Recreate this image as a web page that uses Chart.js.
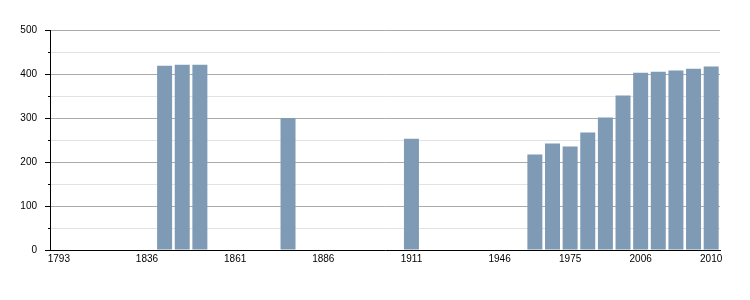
<!DOCTYPE html>
<html>
<head>
<meta charset="utf-8">
<script src="https://cdn.jsdelivr.net/npm/chart.js@4"></script>
<style>
html,body{margin:0;padding:0;background:#fff;}
#wrap{width:750px;height:300px;position:relative;}
</style>
</head>
<body>
<div id="wrap"><canvas id="c" width="750" height="300"></canvas></div>
<script>
const years = ['1793','1800','1806','1821','1831','1836','1841','1846','1851','1856','1861','1866','1872','1876','1881','1886','1891','1896','1901','1906','1911','1921','1926','1931','1936','1946','1954','1962','1968','1975','1982','1990','1999','2006','2007','2008','2009','2010'];
const population = [null,null,null,null,null,null,419,421,421,null,null,null,null,300,null,null,null,null,null,null,253,null,null,null,null,null,null,217,242,235,267,301,351,403,405,408,412,417];
const shownLabels = ['1793','1836','1861','1886','1911','1946','1975','2006','2010'];
const yMin = 0, yMax = 500, yStep = 50, yLabelStep = 100;

const tickMarks = {
  id: 'tickMarks',
  afterDraw(chart) {
    const y = chart.scales.y, ctx = chart.ctx;
    ctx.save();
    ctx.strokeStyle = '#000';
    ctx.lineWidth = 1;
    y.ticks.forEach(t => {
      const py = Math.round(y.getPixelForValue(t.value)) + 0.5;
      const len = (t.value % yLabelStep === 0) ? 5 : 2;
      ctx.beginPath();
      ctx.moveTo(y.right - len, py);
      ctx.lineTo(y.right, py);
      ctx.stroke();
    });
    ctx.restore();
  }
};

new Chart(document.getElementById('c'), {
  type: 'bar',
  data: {
    labels: years,
    datasets: [{
      data: population,
      backgroundColor: '#7f9ab4',
      borderWidth: 0,
      barPercentage: 0.85,
      categoryPercentage: 1.0
    }]
  },
  options: {
    responsive: false,
    animation: false,
    layout: { padding: { left: 0, top: 30, right: 30, bottom: 0 } },
    plugins: { legend: { display: false }, tooltip: { enabled: false } },
    scales: {
      x: {
        offset: true,
        grid: { display: false, drawTicks: false },
        border: { display: true, color: '#000', width: 1 },
        ticks: {
          autoSkip: false,
          maxRotation: 0,
          padding: 3,
          color: '#000',
          font: { family: 'Liberation Sans, Arial, sans-serif', size: 10 },
          callback: (v, i) => shownLabels.includes(years[i]) ? years[i] : ''
        },
        afterFit: s => { s.height = 50; }
      },
      y: {
        min: yMin, max: yMax,
        grid: {
          drawTicks: false,
          tickLength: 0,
          color: c => (c.tick && c.tick.value % yLabelStep === 0) ? '#aaaaaa' : '#e2e2e2',
          lineWidth: 1
        },
        border: { display: true, color: '#000', width: 1 },
        ticks: {
          stepSize: yStep,
          padding: 13,
          color: '#000',
          font: { family: 'Liberation Sans, Arial, sans-serif', size: 10 },
          callback: v => (v % yLabelStep === 0) ? String(v) : ''
        },
        afterFit: s => { s.width = 50; }
      }
    }
  },
  plugins: [tickMarks]
});
</script>
</body>
</html>
